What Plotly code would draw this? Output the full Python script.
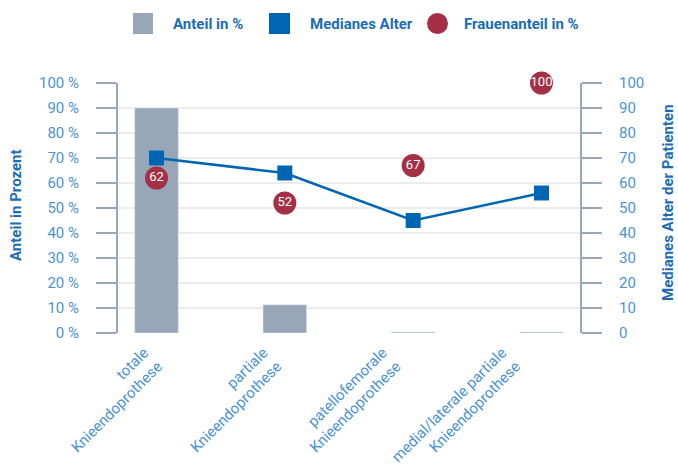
import plotly.graph_objects as go

categories = ["totale<br>Knieendoprothese", "partiale<br>Knieendoprothese",
              "patellofemorale<br>Knieendoprothese", "medial/laterale partiale<br>Knieendoprothese"]
anteil = [90, 11.3, 0.4, 0.4]
median_alter = [70, 64, 45, 56]
frauenanteil = [62, 52, 67, 100]
y_ticks = list(range(0, 101, 10))
y_left_text = [f"{v} %" for v in y_ticks]
y_right_text = [str(v) for v in y_ticks]

BAR = "#97a7b8"
BLUE = "#0066b3"
RED = "#a52f45"
TICK = "#4b93d3"
TITLE = "#1a6db5"
AX = "#98a8b8"
FONT = "Roboto"

x = list(range(len(categories)))

fig = go.Figure()
fig.add_trace(go.Bar(x=x, y=anteil, marker_color=BAR, width=0.34, yaxis="y", showlegend=False))
fig.add_trace(go.Scatter(x=x, y=median_alter, mode="lines+markers", yaxis="y2",
                         line=dict(color=BLUE, width=2.5), cliponaxis=False,
                         marker=dict(symbol="square", size=15, color=BLUE), showlegend=False))
fig.add_trace(go.Scatter(x=x, y=frauenanteil, mode="markers+text", yaxis="y", cliponaxis=False,
                         marker=dict(symbol="circle", size=23, color=RED),
                         text=[str(v) for v in frauenanteil], textposition="middle center",
                         textfont=dict(color="white", size=13, family=FONT), showlegend=False))
# invisible trace carrying the category label axis
fig.add_trace(go.Scatter(x=x, y=[None] * len(x), xaxis="x2", yaxis="y", mode="markers",
                         showlegend=False, hoverinfo="skip"))

fig.update_layout(
    width=678, height=470,
    margin=dict(l=118, r=98, t=83, b=137, autoexpand=False),
    paper_bgcolor="white", plot_bgcolor="white",
    font=dict(family=FONT, color=TICK, size=15),
    xaxis=dict(range=[-0.3, 3.3], tickvals=x, showticklabels=False,
               showgrid=False, zeroline=False, showline=False, ticks="", automargin=False),
    xaxis2=dict(range=[-0.327, 3.545], tickvals=x, ticktext=categories, tickangle=-45,
                overlaying="x", side="bottom", anchor="y",
                showgrid=False, zeroline=False, showline=False, ticks="", automargin=False,
                ticklabelshift=-13, ticklabelstandoff=7,
                tickfont=dict(size=15, color=TICK)),
    yaxis=dict(range=[0, 100], tickvals=y_ticks, ticktext=y_left_text, showgrid=True,
               gridcolor="#ececec", gridwidth=2, zeroline=False, automargin=False,
               showline=True, linecolor=AX, linewidth=2, ticks="outside", ticklen=20,
               tickwidth=2, tickcolor=AX, ticklabelstandoff=14),
    yaxis2=dict(range=[0, 100], tickvals=y_ticks, ticktext=y_right_text, overlaying="y", side="right",
                showgrid=False, automargin=False,
                zeroline=False, showline=True, linecolor=AX, linewidth=2, ticks="outside",
                ticklen=20, tickwidth=2, tickcolor=AX, ticklabelstandoff=14),
)

def px_x(p):
    return (p - 118) / 462.0

def px_y(p):
    return (333 - p) / 250.0

# Axis titles
fig.add_annotation(text="<b>Anteil in Prozent</b>", xref="paper", yref="paper", x=px_x(16), y=px_y(205),
                   textangle=-90, showarrow=False, xanchor="center", yanchor="middle",
                   font=dict(color=TITLE, size=15, family=FONT))
fig.add_annotation(text="<b>Medianes Alter der Patienten</b>", xref="paper", yref="paper", x=px_x(668),
                   y=px_y(203), textangle=-90, showarrow=False, xanchor="center", yanchor="middle",
                   font=dict(color=TITLE, size=15, family=FONT))

# Custom legend
fig.add_shape(type="rect", xref="paper", yref="paper", x0=px_x(133), x1=px_x(153),
              y0=px_y(34), y1=px_y(13), fillcolor=BAR, line_width=0)
fig.add_shape(type="rect", xref="paper", yref="paper", x0=px_x(269), x1=px_x(290),
              y0=px_y(34), y1=px_y(13), fillcolor=BLUE, line_width=0)
fig.add_shape(type="circle", xref="paper", yref="paper", x0=px_x(427), x1=px_x(448),
              y0=px_y(34), y1=px_y(13), fillcolor=RED, line_width=0)
for label, xp in [("Anteil in %", 171), ("Medianes Alter", 308), ("Frauenanteil in %", 462)]:
    fig.add_annotation(text="<b>" + label + "</b>", xref="paper", yref="paper", x=px_x(xp), y=px_y(23.5),
                       xanchor="left", yanchor="middle", showarrow=False,
                       font=dict(color=TITLE, size=15, family=FONT))

fig.write_html("out.html")
